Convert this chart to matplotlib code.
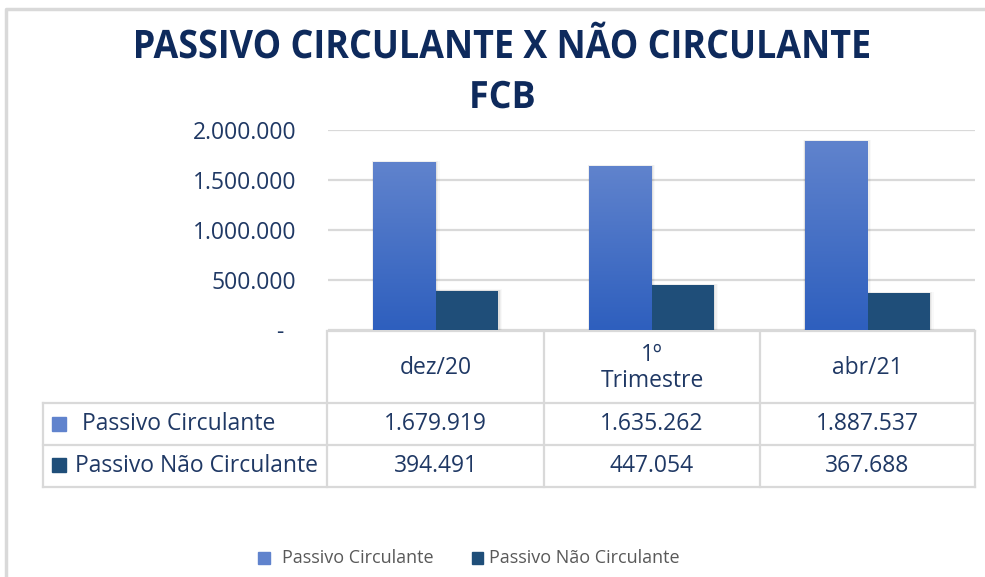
import matplotlib
matplotlib.use('Agg')
import matplotlib.pyplot as plt
import numpy as np
from matplotlib.textpath import TextPath
from matplotlib.patches import PathPatch
from matplotlib.font_manager import FontProperties
from matplotlib.transforms import Affine2D

plt.rcParams['font.family'] = ['Open Sans', 'DejaVu Sans']

# dados
titulo = 'PASSIVO CIRCULANTE X NÃO CIRCULANTE'
subtitulo = 'FCB'
categorias = ['dez/20', '1º\nTrimestre', 'abr/21']
series = ['Passivo Circulante', 'Passivo Não Circulante']
passivo_circulante = [1679919, 1635262, 1887537]
passivo_nao_circulante = [394491, 447054, 367688]
yticks = [0, 500000, 1000000, 1500000, 2000000]

cor_pc_topo = '#6083cd'
cor_pc_base = '#2e5fbe'
cor_pnc = '#1f4e79'
cor_grade = '#d9d9d9'
cor_texto = '#1f3864'
cor_titulo = '#0e2a5c'
fs = 16.5


def fmt_br(v):
    if v == 0:
        return '-  '
    return f'{v:,.0f}'.replace(',', '.')


W, H = 985, 577
fig = plt.figure(figsize=(W / 100, H / 100), dpi=100)

# eixo em pixels para moldura, título e tabela
bg = fig.add_axes([0, 0, 1, 1])
bg.set_xlim(0, W)
bg.set_ylim(H, 0)
bg.axis('off')
bg.plot([6, 6, W + 5], [H + 5, 9, 9], color='#d9d9d9', lw=2.5)


def texto_path(s, cx, base, sx, sy):
    fp = FontProperties(family='Open Sans', weight='bold')
    tp = TextPath((0, 0), s, size=1, prop=fp)
    ext = tp.get_extents()
    w = ext.width * sx
    tr = Affine2D().translate(-ext.x0, 0).scale(sx, -sy).translate(cx - w / 2, base)
    bg.add_patch(PathPatch(tr.transform_path(tp), color=cor_titulo, lw=0))


# escala do título: largura 733 px, altura das maiúsculas 28 px
fp_t = FontProperties(family='Open Sans', weight='bold')
cap = TextPath((0, 0), 'H', size=1, prop=fp_t).get_extents().height
larg_t = TextPath((0, 0), titulo, size=1, prop=fp_t).get_extents().width
sy_t = 28 / cap
sx_t = 733 / larg_t
texto_path(titulo, 502.5, 58, sx_t, sy_t)
texto_path(subtitulo, 503, 108, sx_t, sy_t * 0.96)

# eixo principal (pixels do gráfico: x 328..975, y 130..330)
x0, x1, y0, y1 = 328, 975, 130, 330
ax = fig.add_axes([x0 / W, 1 - y1 / H, (x1 - x0) / W, (y1 - y0) / H])
ax.set_yticks(yticks)
ax.set_yticklabels([fmt_br(v) for v in yticks], fontsize=fs, color=cor_texto)
ax.tick_params(axis='y', length=0, pad=23)
ax.set_xticks([])
for s in ['top', 'right', 'left', 'bottom']:
    ax.spines[s].set_visible(False)
ax.yaxis.grid(True, color=cor_grade, lw=1.6)
ax.set_axisbelow(True)

x = np.arange(3) + 0.5
larg = 0.29
grad = np.linspace(0, 1, 256).reshape(-1, 1)
cmap = matplotlib.colors.LinearSegmentedColormap.from_list('pc', [cor_pc_base, cor_pc_topo])

# sombras suaves
for xs, vals in [(x - larg / 2, passivo_circulante), (x + larg / 2, passivo_nao_circulante)]:
    for k, a in [(3, 0.025), (2, 0.04), (1, 0.06)]:
        ax.bar(xs + k * 0.002, np.array(vals) + k * 5000, larg + k * 0.008,
               color='black', alpha=a, zorder=1.5, lw=0)

barras = ax.bar(x - larg / 2, passivo_circulante, larg, color=cor_pc_base, zorder=2,
                label=series[0], lw=0)
for b in barras:
    im = ax.imshow(grad, cmap=cmap, aspect='auto', origin='lower', zorder=2.5,
                   extent=[b.get_x(), b.get_x() + b.get_width(), 0, b.get_height()])
    im.set_clip_path(b)
ax.bar(x + larg / 2, passivo_nao_circulante, larg, color=cor_pnc, zorder=2,
       label=series[1], lw=0)
ax.set_xlim(0, 3)
ax.set_ylim(0, 2000000)

# tabela de dados
cols = [327, 544, 760, 975]
lc = dict(color=cor_grade, lw=1.6)
bg.plot([x0, x1], [331, 331], **lc)
for yy in [403, 445, 487]:
    bg.plot([43, x1], [yy, yy], **lc)
bg.plot([43, 43], [403, 487], **lc)
for xx in cols:
    bg.plot([xx, xx], [331, 487], **lc)

for i, cat in enumerate(categorias):
    cx = (cols[i] + cols[i + 1]) / 2
    bg.text(cx, 368, cat, ha='center', va='center', fontsize=fs, color=cor_texto,
            linespacing=1.1)
    bg.text(cx, 424, fmt_br(passivo_circulante[i]), ha='center', va='center',
            fontsize=fs, color=cor_texto)
    bg.text(cx, 466, fmt_br(passivo_nao_circulante[i]), ha='center', va='center',
            fontsize=fs, color=cor_texto)

bg.add_patch(plt.Rectangle((52, 417), 14, 14, color=cor_pc_topo))
bg.text(82, 424, series[0], ha='left', va='center', fontsize=fs, color=cor_texto)
bg.add_patch(plt.Rectangle((52, 458), 14, 14, color=cor_pnc))
bg.text(75, 466, series[1], ha='left', va='center', fontsize=fs, color=cor_texto)

# legenda
bg.add_patch(plt.Rectangle((258, 552), 12, 12, color=cor_pc_topo))
bg.text(282, 558, series[0], ha='left', va='center', fontsize=13, color='#595959')
bg.add_patch(plt.Rectangle((472, 552), 11, 12, color=cor_pnc))
bg.text(489, 558, series[1], ha='left', va='center', fontsize=13, color='#595959')

fig.savefig('out.png', dpi=100)
